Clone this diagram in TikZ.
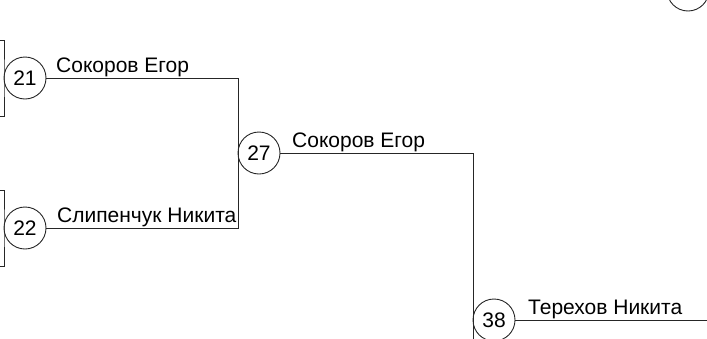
\documentclass[tikz,border=0pt]{standalone}
\usepackage{fontspec}
\setmainfont{Liberation Sans}
\begin{document}
\begin{tikzpicture}[x=1pt,y=-1pt,
  conn/.style={draw=black!85, line width=0.9pt},
  numcirc/.style={circle, draw=black!85, line width=0.9pt, minimum size=42pt, inner sep=0pt, font=\fontsize{21}{24}\selectfont},
  plname/.style={anchor=base west, inner sep=0pt, font=\fontsize{21}{24}\selectfont}]
\useasboundingbox (0,0) rectangle (707,338);
\clip (0,0) rectangle (707,338);
% match circles
\node[numcirc] (c21) at (25,78) {21};
\node[numcirc] (c22) at (25,228) {22};
\node[numcirc] (c27) at (259,153) {27};
\node[numcirc] (c38) at (494,320) {38};
\node[numcirc] (ctop) at (688,-10) {};
% names
\node[plname] (n21) at (56,72) {Сокоров Егор};
\node[plname] (n22) at (57,222) {Слипенчук Никита};
\node[plname] (n27) at (292,147) {Сокоров Егор};
\node[plname] (n38) at (528,314) {Терехов Никита};
% joints
\coordinate (j21) at (238,78);
\coordinate (j22) at (238,228);
\coordinate (j27) at (473,153);
\coordinate (j27b) at (473,345);
\coordinate (e38) at (715,320);
\coordinate (a1) at (-5,40);
\coordinate (a2) at (-5,116);
\coordinate (b1) at (-5,190);
\coordinate (b2) at (-5,266);
% connectors
\draw[conn] (c21.east) -- (j21) -- (j22) -- (c22.east);
\draw[conn] (c27.east) -- (j27) -- (j27b);
\draw[conn] (c38.east) -- (e38);
\draw[conn] (a1) -| (4,78) |- (a2);
\draw[conn] (b1) -| (4,228) |- (b2);
\end{tikzpicture}
\end{document}
